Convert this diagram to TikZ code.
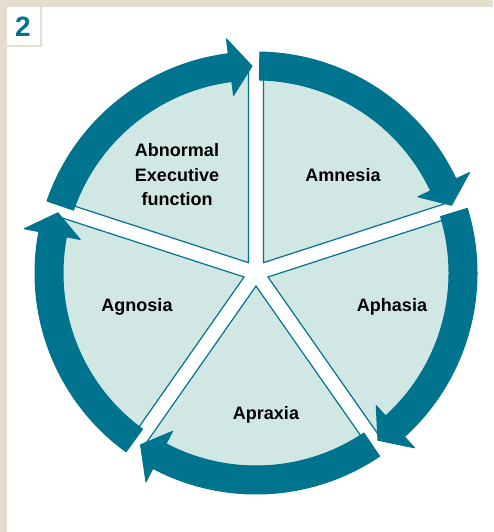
\documentclass[tikz,border=0pt]{standalone}
\usepackage{tikz}
\usepackage{fontspec}
\setmainfont{Liberation Sans}
\definecolor{deepteal}{HTML}{00738F}
\definecolor{paleteal}{HTML}{D0E7E4}
\definecolor{frame}{HTML}{E5DDD0}
\tikzset{
	ring/.style={fill=deepteal,draw=deepteal,line width=1pt,line join=round},
	sector/.style={fill=paleteal,draw=deepteal,line width=1.2pt},
	lbl/.style={font=\bfseries\fontsize{18}{24.5}\selectfont,align=center,inner sep=0pt}
}

\begin{document}
\begin{tikzpicture}[x=1pt,y=1pt]
	\fill[frame] (0,0) rectangle (493,532);
	\fill[white] (7,0) rectangle (493,485);
	\fill[white] (42,485) rectangle (493,525);
	\fill[white] (7,487) rectangle (40,525);
	\node[font=\bfseries\fontsize{28}{30}\selectfont,text=deepteal] (num) at (23,505) {2};
	\begin{scope}[shift={(256,259)}]
		\coordinate (hub) at (0,0);
		\foreach \a/\b in {90/18,18/-55,-55/-125,-125/-198,-198/-270}
			\draw[sector] ({(\a+\b)/2}:{7.5/sin((\a-\b)/2)*1pt}) -- ({\a-2.1}:205pt)
				arc[start angle={\a-2.1},end angle={\b+2.1},radius=205pt] -- cycle;
		\foreach \s/\e in {90/18,18/-55,-55/-125,-125/-198,-198/-270}
			\fill[ring] ({\s-1}:193pt) arc[start angle={\s-1},end angle={\e+7.2},radius=193pt]
				-- ({\e+7.2}:179pt) -- ({\e+1.1}:207pt) -- ({\e+7.2}:236pt) -- ({\e+7.2}:221pt)
				arc[start angle={\e+7.2},end angle={\s-1},radius=221pt] -- cycle;
	\end{scope}
	\node[lbl] (exec) at (177,357) {Abnormal\\Executive\\function};
	\node[lbl] (amnesia) at (343,357) {Amnesia};
	\node[lbl] (aphasia) at (392,225) {Aphasia};
	\node[lbl] (apraxia) at (266,117) {Apraxia};
	\node[lbl] (agnosia) at (137,225) {Agnosia};
\end{tikzpicture}
\end{document}
